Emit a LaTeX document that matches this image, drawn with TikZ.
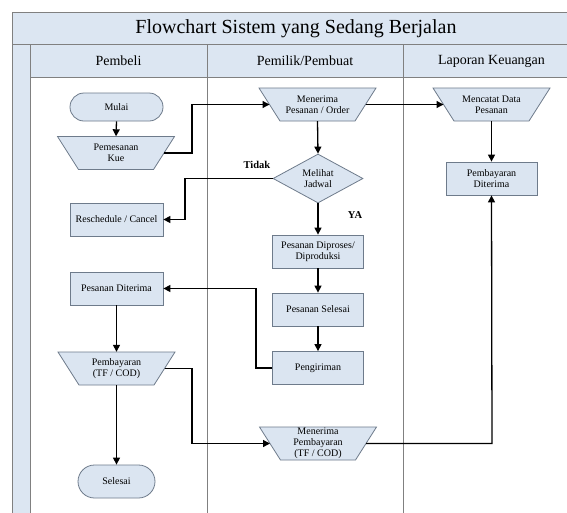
\documentclass[tikz,border=0pt]{standalone}
\usepackage{fontspec}
\setmainfont{Liberation Serif}
\usetikzlibrary{shapes.geometric,arrows.meta,calc}
\definecolor{lb}{HTML}{DCE6F2}
\definecolor{nb}{HTML}{DBE5F1}
\definecolor{fr}{HTML}{808080}
\definecolor{bd}{HTML}{6E7B8B}
\tikzset{
  nodefont/.style={font=\fontsize{10}{11}\selectfont},
  proc/.style={rectangle, draw=bd, fill=nb, line width=0.8pt, minimum width=91pt, minimum height=33pt, inner sep=1pt, align=center, nodefont},
  term/.style={rectangle, draw=bd, fill=nb, line width=0.8pt, inner sep=1pt, align=center, nodefont},
  trapshape/.style={draw=bd, fill=nb, line width=0.8pt},
  traptext/.style={rectangle, inner sep=0pt, minimum width=75pt, minimum height=33pt, align=center, nodefont},
  decide/.style={diamond, draw=bd, fill=nb, line width=0.8pt, minimum width=90pt, minimum height=49pt, inner sep=0pt, aspect=1.84, align=center, nodefont},
  arr/.style={draw=black, line width=1.3pt, -{Triangle[length=7pt,width=7pt]}},
  plain/.style={draw=black, line width=1.3pt},
  frame/.style={draw=fr, line width=0.9pt},
  lbl/.style={font=\fontsize{10.5}{12}\selectfont\bfseries},
}
\newcommand{\mytrap}[4]{%
  \draw[trapshape] ({#1-58.5},{#2-16.5}) -- ({#1+58.5},{#2-16.5}) -- ({#1+37.5},{#2+16.5}) -- ({#1-37.5},{#2+16.5}) -- cycle;
  \node[traptext] (#3) at (#1,#2) {#4};
}
\begin{document}
\begin{tikzpicture}[x=1pt,y=-1pt]
\useasboundingbox (0,0) rectangle (567,512);
\clip (0,0) rectangle (567,512);
% frame
\fill[white] (0,0) rectangle (567,512);
\path[fill=lb] (12,12) rectangle (590,44);
\path[fill=lb] (12,44) rectangle (30,530);
\path[fill=lb] (30,44) rectangle (590,77);
\draw[frame] (12,530) -- (12,12) -- (590,12);
\draw[frame] (12,44) -- (590,44);
\draw[frame] (30,77) -- (590,77);
\draw[frame] (30,44) -- (30,530);
\draw[frame] (207,44) -- (207,530);
\draw[frame] (403,44) -- (403,530);
\node[font=\fontsize{20}{24}\selectfont] (title) at (296,28.5) {Flowchart Sistem yang Sedang Berjalan};
\node[font=\fontsize{14}{16}\selectfont] (h1) at (118.5,61) {Pembeli};
\node[font=\fontsize{14}{16}\selectfont] (h2) at (305,61) {Pemilik/Pembuat};
\node[font=\fontsize{14}{16}\selectfont] (h3) at (491.5,61) {Laporan Keuangan};
% Pembeli lane
\node[term, minimum width=93pt, minimum height=28pt, rounded corners=14pt] (mulai) at (116.5,107) {Mulai};
\mytrap{116}{153}{pesan}{Pemesanan\\Kue}
\node[proc, minimum width=93pt] (resch) at (116.5,219.5) {Reschedule / Cancel};
\node[proc, minimum width=93pt] (diterima) at (116.5,288.5) {Pesanan Diterima};
\mytrap{116.5}{368.5}{bayar}{Pembayaran\\(TF / COD)}
\node[term, minimum width=77pt, minimum height=33pt, rounded corners=16.5pt] (selesai) at (116.5,481.5) {Selesai};
% Pemilik lane
\mytrap{317.5}{104.5}{terima}{Menerima\\Pesanan / Order}
\node[decide] (jadwal) at (318,178.5) {Melihat\\Jadwal};
\node[proc] (proses) at (318,251.5) {Pesanan Diproses/\\Diproduksi};
\node[proc] (pselesai) at (318,309.5) {Pesanan Selesai};
\node[proc] (kirim) at (318,368) {Pengiriman};
\mytrap{318}{443.5}{tbayar}{Menerima\\Pembayaran\\(TF / COD)}
% Laporan lane
\mytrap{491.5}{104.5}{catat}{Mencatat Data\\Pesanan}
\node[proc] (bditerima) at (491.5,178.5) {Pembayaran\\Diterima};
% labels
\node[lbl] (tidak) at (257,165) {Tidak};
\node[lbl] (ya) at (355,215) {YA};
% connectors
\draw[arr] (mulai.south) -- (pesan.north);
\draw[arr] ($(pesan.center)+(48,0)$) -- (192,153) -- (192,104.5) -- ($(terima.center)+(-48,0)$);
\draw[arr] ($(terima.center)+(48,0)$) -- ($(catat.center)+(-48,0)$);
\draw[arr] (terima.south) -- (jadwal.north);
\draw[arr] (jadwal.west) -- (185,178.5) -- (185,219.5) -- (resch.east);
\draw[arr] (jadwal.south) -- (proses.north);
\draw[arr] (proses.south) -- (pselesai.north);
\draw[arr] (pselesai.south) -- (kirim.north);
\draw[arr] (kirim.west) -- (256,368) -- (256,288.5) -- (diterima.east);
\draw[arr] (diterima.south) -- (bayar.north);
\draw[arr] ($(bayar.center)+(48,0)$) -- (192,368.5) -- (192,443.5) -- ($(tbayar.center)+(-48,0)$);
\draw[arr] (bayar.south) -- (selesai.north);
\draw[arr] ($(tbayar.center)+(48,0)$) -- (492,443.5) -- (bditerima.south);
\draw[arr] (catat.south) -- (bditerima.north);
\end{tikzpicture}
\end{document}
